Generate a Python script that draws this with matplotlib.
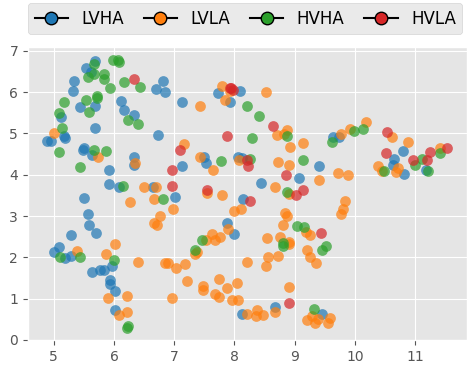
import matplotlib
matplotlib.use("Agg")
import matplotlib.pyplot as plt
from matplotlib.lines import Line2D

plt.style.use("ggplot")

series_names = ["LVHA", "LVLA", "HVHA", "HVLA"]
series_colors = ["#1f77b4", "#ff7f0e", "#2ca02c", "#d62728"]

lvha_x = [5.69, 5.54, 5.61, 5.34, 5.32, 6.69, 6.82, 6.85, 7.13, 5.44, 5.69, 6.11, 6.17, 6.34, 5.12, 5.17, 5.19, 4.89, 4.95, 5.69,
          6.73, 5.50, 5.48, 5.63, 6.33, 6.33, 5.92, 5.92, 6.08, 6.64, 7.01, 5.50, 5.56, 5.59, 5.70, 5.29, 5.09, 5.01, 5.28, 5.19,
          5.96, 5.64, 5.77, 5.84, 5.94, 5.94, 6.02, 6.02, 7.93, 7.73, 8.10, 7.49, 7.52, 7.13, 8.06, 8.12, 9.41, 9.08, 8.44, 8.15,
          7.88, 8.00, 8.68, 8.13, 9.64, 9.74, 10.80, 10.65, 10.64, 10.82, 11.18, 9.45]
lvha_y = [6.76, 6.59, 6.49, 6.28, 6.02, 6.08, 6.26, 6.00, 5.75, 5.63, 5.67, 5.79, 5.57, 5.45, 5.40, 4.94, 4.90, 4.82, 4.82, 5.14,
          4.97, 4.64, 4.60, 4.48, 4.43, 4.24, 4.12, 3.77, 3.71, 3.71, 3.47, 3.43, 3.05, 2.79, 2.60, 2.54, 2.26, 2.14, 2.04, 1.98,
          1.78, 1.64, 1.70, 1.70, 1.46, 1.36, 1.19, 0.73, 5.75, 5.98, 6.02, 4.44, 4.28, 4.22, 4.44, 4.40, 4.20, 3.93, 3.79, 3.42,
          2.84, 2.56, 0.81, 0.64, 4.92, 4.91, 4.57, 4.38, 4.24, 4.01, 4.12, 0.64]

lvla_x = [5.01, 5.73, 6.35, 6.49, 6.70, 6.67, 6.26, 6.98, 6.77, 6.67, 6.72, 5.39, 6.02, 5.87, 6.40, 6.85, 6.90, 7.03, 5.90, 6.21,
          6.96, 6.21, 6.09, 7.79, 7.93, 8.53, 7.42, 7.84, 8.88, 8.70, 8.83, 7.17, 9.14, 8.93, 7.42, 7.65, 8.07, 8.72, 8.91, 9.41,
          8.68, 7.55, 7.79, 8.90, 8.11, 8.00, 8.84, 8.87, 8.81, 9.19, 9.26, 7.90, 7.62, 7.76, 7.68, 7.52, 8.54, 8.76, 8.91, 7.38,
          7.35, 7.18, 8.21, 8.55, 8.72, 8.52, 8.90, 9.20, 9.26, 9.36, 7.21, 7.47, 7.47, 7.75, 7.88, 8.05, 7.67, 7.74, 7.96, 8.06,
          8.91, 8.68, 8.21, 8.37, 8.36, 8.47, 9.20, 9.29, 9.33, 9.39, 9.59, 9.56, 10.19, 9.92, 9.77, 10.62, 10.89, 11.41, 10.38, 10.45,
          10.72, 10.68, 9.72, 9.88, 9.84, 9.80, 9.77]
lvla_y = [5.02, 4.44, 4.28, 3.71, 3.71, 3.41, 3.33, 3.17, 2.99, 2.83, 2.79, 2.16, 2.33, 2.07, 1.89, 1.86, 1.86, 1.75, 1.02, 1.06,
          1.01, 0.68, 0.60, 6.14, 6.03, 6.01, 5.66, 5.81, 5.08, 4.97, 4.99, 4.74, 4.76, 4.68, 4.42, 4.12, 4.36, 4.30, 4.23, 3.87,
          3.70, 3.55, 3.50, 3.54, 3.17, 3.13, 3.08, 3.00, 2.79, 2.61, 2.55, 2.68, 2.56, 2.49, 2.41, 2.43, 2.48, 2.49, 2.38, 2.14,
          2.09, 1.84, 1.90, 2.00, 2.04, 1.80, 2.33, 2.18, 2.01, 1.87, 1.43, 1.30, 1.20, 1.48, 1.26, 1.39, 1.12, 1.04, 0.96, 0.96,
          1.28, 0.68, 0.64, 0.72, 0.59, 0.61, 0.49, 0.59, 0.41, 0.51, 0.53, 0.41, 5.28, 5.10, 4.99, 4.91, 4.80, 4.64, 4.20, 4.10,
          4.16, 4.06, 4.05, 4.00, 3.37, 3.17, 3.05]

hvha_x = [5.98, 6.07, 6.09, 5.66, 5.56, 5.67, 5.83, 5.84, 6.16, 6.43, 5.94, 5.17, 5.54, 5.71, 5.72, 5.58, 6.23, 6.40, 5.08, 5.14,
          5.09, 5.66, 5.86, 5.43, 6.15, 6.82, 5.11, 5.43, 6.00, 6.23, 6.22, 8.21, 8.40, 8.87, 8.29, 7.78, 8.26, 9.14, 8.88, 9.04,
          9.16, 7.46, 8.80, 7.35, 8.81, 9.32, 9.99, 10.13, 9.62, 11.42, 11.00, 11.12, 10.49, 11.22, 9.52, 9.46]
hvha_y = [6.79, 6.79, 6.73, 6.69, 6.37, 6.43, 6.43, 6.33, 6.25, 6.12, 6.09, 5.77, 5.81, 5.91, 5.85, 5.53, 5.32, 5.24, 5.50, 5.12,
          4.54, 4.60, 4.57, 4.19, 3.74, 3.41, 2.02, 2.02, 1.93, 0.33, 0.30, 5.66, 5.43, 4.94, 4.89, 4.34, 4.38, 4.36, 3.59, 2.75,
          2.73, 2.41, 2.35, 2.18, 2.28, 0.76, 5.06, 5.11, 4.80, 4.53, 4.24, 4.37, 4.08, 4.10, 2.28, 2.18]

hvla_x = [6.34, 6.97, 7.10, 6.96, 7.95, 7.93, 7.98, 8.64, 7.88, 8.21, 8.23, 8.86, 7.55, 9.02, 9.14, 8.26, 8.90, 10.54, 11.53, 10.52,
          11.25, 10.96, 11.19, 9.44]
hvla_y = [6.31, 4.11, 4.60, 3.74, 6.09, 6.10, 6.06, 5.17, 4.94, 4.36, 4.20, 4.00, 3.63, 3.51, 3.63, 3.37, 0.90, 5.03, 4.64, 4.53,
          4.56, 4.36, 4.36, 2.59]

xs = [lvha_x, lvla_x, hvha_x, hvla_x]
ys = [lvha_y, lvla_y, hvha_y, hvla_y]

fig = plt.figure(figsize=(4.73, 3.67), dpi=100)
ax = fig.add_axes([0.059, 0.0736, 0.928, 0.798])

for x, y, c in zip(xs, ys, series_colors):
    ax.scatter(x, y, s=60, color=c, alpha=0.7, linewidths=0)

ax.set_xlim(4.57, 11.86)
ax.set_ylim(0, 7.09)
ax.set_xticks([5, 6, 7, 8, 9, 10, 11])
ax.set_yticks([0, 1, 2, 3, 4, 5, 6, 7])

handles = [Line2D([0], [0], color="black", marker="o", markerfacecolor=c,
                  markeredgecolor="black", markersize=9, linewidth=1.5)
           for c in series_colors]
ax.legend(handles, series_names, ncol=4, loc="lower left", mode="expand",
          bbox_to_anchor=(0, 1.044, 0.99, 0.1), fontsize=12, borderaxespad=0)

fig.savefig("out.png", dpi=100)
